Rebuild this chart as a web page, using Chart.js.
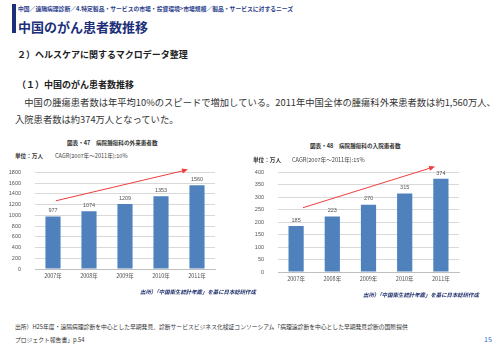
<!DOCTYPE html>
<html>
<head>
<meta charset="utf-8">
<script src="https://cdn.jsdelivr.net/npm/chart.js@4.4.1/dist/chart.umd.min.js"></script>
<style>
  body { margin: 0; width: 500px; height: 353px; position: relative; background: #fff; overflow: hidden;
         font-family: "Noto Sans CJK JP", "Noto Sans", sans-serif; }
  .t { position: absolute; white-space: nowrap; line-height: 1; color: #222; }
  canvas { position: absolute; }
</style>
</head>
<body>
<div style="position:absolute;left:12px;top:4px;width:3.5px;height:29px;background:#1c2f7a"></div>
<div class="t" style="left:18px;top:6px;font-size:5.8px;font-weight:bold;color:#2b3d8c">中国／遠隔病理診断／4.特定製品・サービスの市場・投資環境&gt;市場規模／製品・サービスに対するニーズ</div>
<div class="t" style="left:18px;top:19.5px;font-size:13px;font-weight:bold;color:#1c2f7a">中国のがん患者数推移</div>
<div class="t" style="left:17px;top:49.5px;font-size:9px;font-weight:bold">２）ヘルスケアに関するマクロデータ整理</div>
<div class="t" style="left:17px;top:79.5px;font-size:9px;font-weight:bold">（１）中国のがん患者数推移</div>
<div class="t" style="left:15px;top:98px;font-size:9.3px;color:#333">　中国の腫瘍患者数は年平均10%のスピードで増加している。2011年中国全体の腫瘍科外来患者数は約1,560万人、</div>
<div class="t" style="left:15px;top:115px;font-size:9.3px;color:#333">入院患者数は約374万人となっていた。</div>

<div class="t" style="left:67px;top:141px;font-size:5.6px;font-weight:bold;color:#333">図表・47　病院腫瘍科の外来患者数</div>
<div class="t" style="left:15px;top:154px;font-size:5.6px;font-weight:bold;color:#333">単位：万人</div>
<div class="t" style="left:55px;top:154px;font-size:5.6px;color:#444">CAGR(2007年～2011年):10%</div>
<canvas id="outChart" width="230" height="135" style="left:0;top:155px"></canvas>
<div class="t" style="left:140px;top:290px;font-size:5.4px;font-style:italic;font-weight:bold;color:#1f2f6a">出所）「中国衛生統計年鑑」を基に日本総研作成</div>

<div class="t" style="left:310px;top:144px;font-size:5.6px;font-weight:bold;color:#333">図表・48　病院腫瘍科の入院患者数</div>
<div class="t" style="left:253px;top:158px;font-size:5.6px;font-weight:bold;color:#333">単位：万人</div>
<div class="t" style="left:292px;top:158px;font-size:5.6px;color:#444">CAGR(2007年～2011年):15%</div>
<canvas id="inChart" width="230" height="135" style="left:250px;top:155px"></canvas>
<div class="t" style="left:363px;top:293px;font-size:5.4px;font-style:italic;font-weight:bold;color:#1f2f6a">出所）「中国衛生統計年鑑」を基に日本総研作成</div>

<div class="t" style="left:15px;top:324px;font-size:5.8px;color:#333">出所）H25年度・遠隔病理診断を中心とした早期発見、診断サービスビジネス化検証コンソーシアム「病理遠診断を中心とした早期発見診断の国際提供</div>
<div class="t" style="left:15px;top:337px;font-size:5.8px;color:#333">プロジェクト報告書」p.54</div>
<div class="t" style="left:484px;top:336px;font-size:7px;color:#2b6cc4">15</div>

<script>
const years = ["2007年", "2008年", "2009年", "2010年", "2011年"];
const outpatients = [977, 1074, 1209, 1353, 1560];
const inpatients = [185, 223, 270, 315, 374];
// arrow annotation: [category index, value]
const outArrow = [[0.08, 1270], [3.75, 1850]];
const inArrow = [[0.19, 258], [3.84, 423]];

const barLabels = {
  id: "barLabels",
  afterDatasetsDraw(chart) {
    const ctx = chart.ctx;
    const meta = chart.getDatasetMeta(0);
    ctx.save();
    ctx.font = '5.5px "Liberation Sans", sans-serif';
    ctx.fillStyle = "#555";
    ctx.textAlign = "center";
    ctx.textBaseline = "bottom";
    meta.data.forEach((bar, i) => {
      ctx.fillText(chart.data.datasets[0].data[i], bar.x, bar.y - 3);
    });
    ctx.restore();
  }
};

const arrowPlugin = {
  id: "arrow",
  afterDraw(chart, args, opts) {
    const xs = chart.scales.x, ys = chart.scales.y;
    const x1 = xs.getPixelForValue(opts.pts[0][0]), y1 = ys.getPixelForValue(opts.pts[0][1]);
    const x2 = xs.getPixelForValue(opts.pts[1][0]), y2 = ys.getPixelForValue(opts.pts[1][1]);
    const ctx = chart.ctx;
    const a = Math.atan2(y2 - y1, x2 - x1);
    ctx.save();
    ctx.strokeStyle = "#f03c3c";
    ctx.fillStyle = "#f03c3c";
    ctx.lineWidth = 1;
    ctx.beginPath();
    ctx.moveTo(x1, y1);
    ctx.lineTo(x2 - 4 * Math.cos(a), y2 - 4 * Math.sin(a));
    ctx.stroke();
    ctx.beginPath();
    ctx.moveTo(x2, y2);
    ctx.lineTo(x2 - 6 * Math.cos(a) + 2.5 * Math.sin(a), y2 - 6 * Math.sin(a) - 2.5 * Math.cos(a));
    ctx.lineTo(x2 - 6 * Math.cos(a) - 2.5 * Math.sin(a), y2 - 6 * Math.sin(a) + 2.5 * Math.cos(a));
    ctx.closePath();
    ctx.fill();
    ctx.restore();
  }
};

function makeChart(id, data, max, step, yWidth, xHeight, pad, arrow) {
  const ctx = document.getElementById(id).getContext("2d");
  return new Chart(ctx, {
    type: "bar",
    data: {
      labels: years,
      datasets: [{ data: data, backgroundColor: "#4f81bd", barPercentage: 0.42, categoryPercentage: 1 }],
    },
    options: {
      responsive: false,
      animation: false,
      layout: { padding: pad },
      plugins: { legend: { display: false }, tooltip: { enabled: false }, arrow: { pts: arrow } },
      scales: {
        x: {
          grid: { display: false, drawTicks: false },
          border: { color: "#bfbfbf" },
          ticks: { color: "#555", font: { size: 5.5, family: '"Noto Sans CJK JP"' }, padding: 4 },
          afterFit: (s) => { s.height = xHeight; },
        },
        y: {
          min: 0, max: max,
          grid: { color: "#d9d9d9", drawTicks: false },
          border: { display: false },
          ticks: { stepSize: step, color: "#555", font: { size: 5.5, family: '"Liberation Sans"' }, padding: 14,
                   callback: (v) => String(v) },
          afterFit: (s) => { s.width = yWidth; },
        },
      },
    },
    plugins: [barLabels, arrowPlugin],
  });
}

makeChart("outChart", outpatients, 1800, 200, 35, 21, { top: 12, right: 15, left: 0, bottom: 0 }, outArrow);
makeChart("inChart", inpatients, 400, 50, 28, 18, { top: 13, right: 21, left: 0, bottom: 0 }, inArrow);
</script>
</body>
</html>
